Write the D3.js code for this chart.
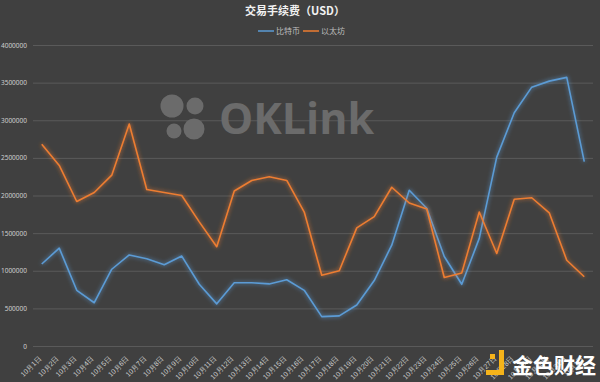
<!DOCTYPE html>
<html>
<head>
<meta charset="utf-8">
<script src="https://cdn.jsdelivr.net/npm/d3@7"></script>
<style>
  body { margin: 0; background: #404040; }
  svg { display: block; font-family: "Noto Sans CJK SC", "Noto Sans", sans-serif; }
</style>
</head>
<body>
<svg id="chart"></svg>
<script>
// data
const days = ["10月1日","10月2日","10月3日","10月4日","10月5日","10月6日","10月7日","10月8日",
  "10月9日","10月10日","10月11日","10月12日","10月13日","10月14日","10月15日","10月16日",
  "10月17日","10月18日","10月19日","10月20日","10月21日","10月22日","10月23日","10月24日",
  "10月25日","10月26日","10月27日","10月28日","10月29日","10月30日","10月31日","11月1日"];
const btcFees = [1090000,1300000,740000,575000,1020000,1210000,1160000,1080000,
  1195000,820000,560000,840000,840000,825000,880000,740000,
  390000,400000,545000,870000,1340000,2070000,1830000,1190000,
  820000,1430000,2510000,3100000,3440000,3520000,3570000,2450000];
const ethFees = [2680000,2400000,1920000,2040000,2270000,2950000,2080000,2040000,
  2000000,1650000,1320000,2060000,2200000,2250000,2200000,1780000,
  940000,1000000,1570000,1720000,2110000,1900000,1820000,910000,
  970000,1780000,1230000,1950000,1970000,1770000,1140000,920000];
const yTicks = [0,500000,1000000,1500000,2000000,2500000,3000000,3500000,4000000];
const seriesNames = ["比特币","以太坊"];
const colors = ["#5b9bd5","#ed7d31"];

const W = 600, H = 382;
let margin = { top: 45, right: 7, bottom: 36, left: 33 },
    width = W - margin.left - margin.right,
    height = H - margin.top - margin.bottom;

const svg = d3.select("#chart").attr("width", W).attr("height", H);
svg.append("rect").attr("width", W).attr("height", H).attr("fill", "#404040");

// glow filters
const defs = svg.append("defs");
colors.forEach(function (c, i) {
  const f = defs.append("filter").attr("id", "glow" + i)
    .attr("x", "-5%").attr("y", "-5%").attr("width", "110%").attr("height", "110%");
  f.append("feGaussianBlur").attr("in", "SourceGraphic").attr("stdDeviation", 2.2).attr("result", "b");
  f.append("feComponentTransfer").attr("in", "b").attr("result", "b2")
    .append("feFuncA").attr("type", "linear").attr("slope", 0.9);
  const m = f.append("feMerge");
  m.append("feMergeNode").attr("in", "b2");
  m.append("feMergeNode").attr("in", "SourceGraphic");
});

// title
svg.append("text").attr("x", 295).attr("y", 15).attr("text-anchor", "middle")
  .attr("fill", "#f2f2f2").attr("font-size", 11).attr("font-weight", "bold")
  .text("交易手续费（USD）");

// legend
const legend = svg.append("g").attr("transform", "translate(258,31)");
seriesNames.forEach(function (n, i) {
  const lg = legend.append("g").attr("transform", "translate(" + (i * 45) + ",0)");
  lg.append("line").attr("x1", 0).attr("x2", 16).attr("y1", 0).attr("y2", 0)
    .attr("stroke", colors[i]).attr("stroke-width", 1.5);
  lg.append("text").attr("x", 18).attr("y", 3).attr("font-size", 8).attr("fill", "#bdbdbd").text(n);
});

// scales
const x = d3.scaleBand().domain(days).range([0, width]);
const y = d3.scaleLinear().domain([0, 4000000]).range([height, 0]);

const g = svg.append("g").attr("transform", "translate(" + margin.left + "," + margin.top + ")");

// watermark
const wm = svg.append("g").attr("fill", "#6b6b6b");
wm.append("circle").attr("cx", 172).attr("cy", 106).attr("r", 11.5);
wm.append("circle").attr("cx", 195).attr("cy", 106).attr("r", 8.5);
wm.append("circle").attr("cx", 174).attr("cy", 131).attr("r", 7.5);
wm.append("circle").attr("cx", 194).attr("cy", 129).attr("r", 10.5);
wm.append("text").attr("x", 219).attr("y", 134).attr("font-family", "Open Sans, sans-serif")
  .attr("font-weight", "bold").attr("font-size", 43).text("OKLink");

// grid lines + y axis
g.append("g")
  .call(d3.axisLeft(y).tickValues(yTicks).tickSize(-width).tickFormat(d3.format("d")).tickPadding(6))
  .call(function (a) {
    a.select(".domain").remove();
    a.selectAll(".tick line").attr("stroke", "#5a5a5a").attr("stroke-width", 1);
    a.selectAll(".tick text").attr("fill", "#cfcfcf").attr("font-size", 6.5).attr("font-family", "Noto Sans, sans-serif");
  });

// x axis labels
g.append("g").attr("transform", "translate(0," + height + ")")
  .call(d3.axisBottom(x).tickSize(0).tickPadding(0))
  .call(function (a) {
    a.select(".domain").remove();
    a.selectAll(".tick text")
      .attr("fill", "#cfcfcf").attr("font-size", 7)
      .attr("text-anchor", "end")
      .attr("dy", 0)
      .attr("transform", "translate(0,13) rotate(-45)");
  });

// lines
const line = d3.line()
  .x(function (d, i) { return x(days[i]) + x.bandwidth() / 2; })
  .y(function (d) { return y(d); });

[btcFees, ethFees].forEach(function (s, i) {
  g.append("path").datum(s)
    .attr("fill", "none")
    .attr("stroke", colors[i])
    .attr("stroke-width", 1.6)
    .attr("stroke-linejoin", "round")
    .attr("filter", "url(#glow" + i + ")")
    .attr("d", line);
});

// bottom-right logo
const logo = svg.append("g");
logo.append("rect").attr("x", 490).attr("y", 354).attr("width", 5).attr("height", 5).attr("fill", "#f5b31a");
logo.append("path").attr("d", "M499,350 h5 v25 h-18 v-5 h13 z").attr("fill", "#f5b31a");
logo.append("text").attr("x", 512).attr("y", 373).attr("font-size", 21).attr("fill", "#ffffff")
  .attr("font-weight", "bold").text("金色财经");
</script>
</body>
</html>
